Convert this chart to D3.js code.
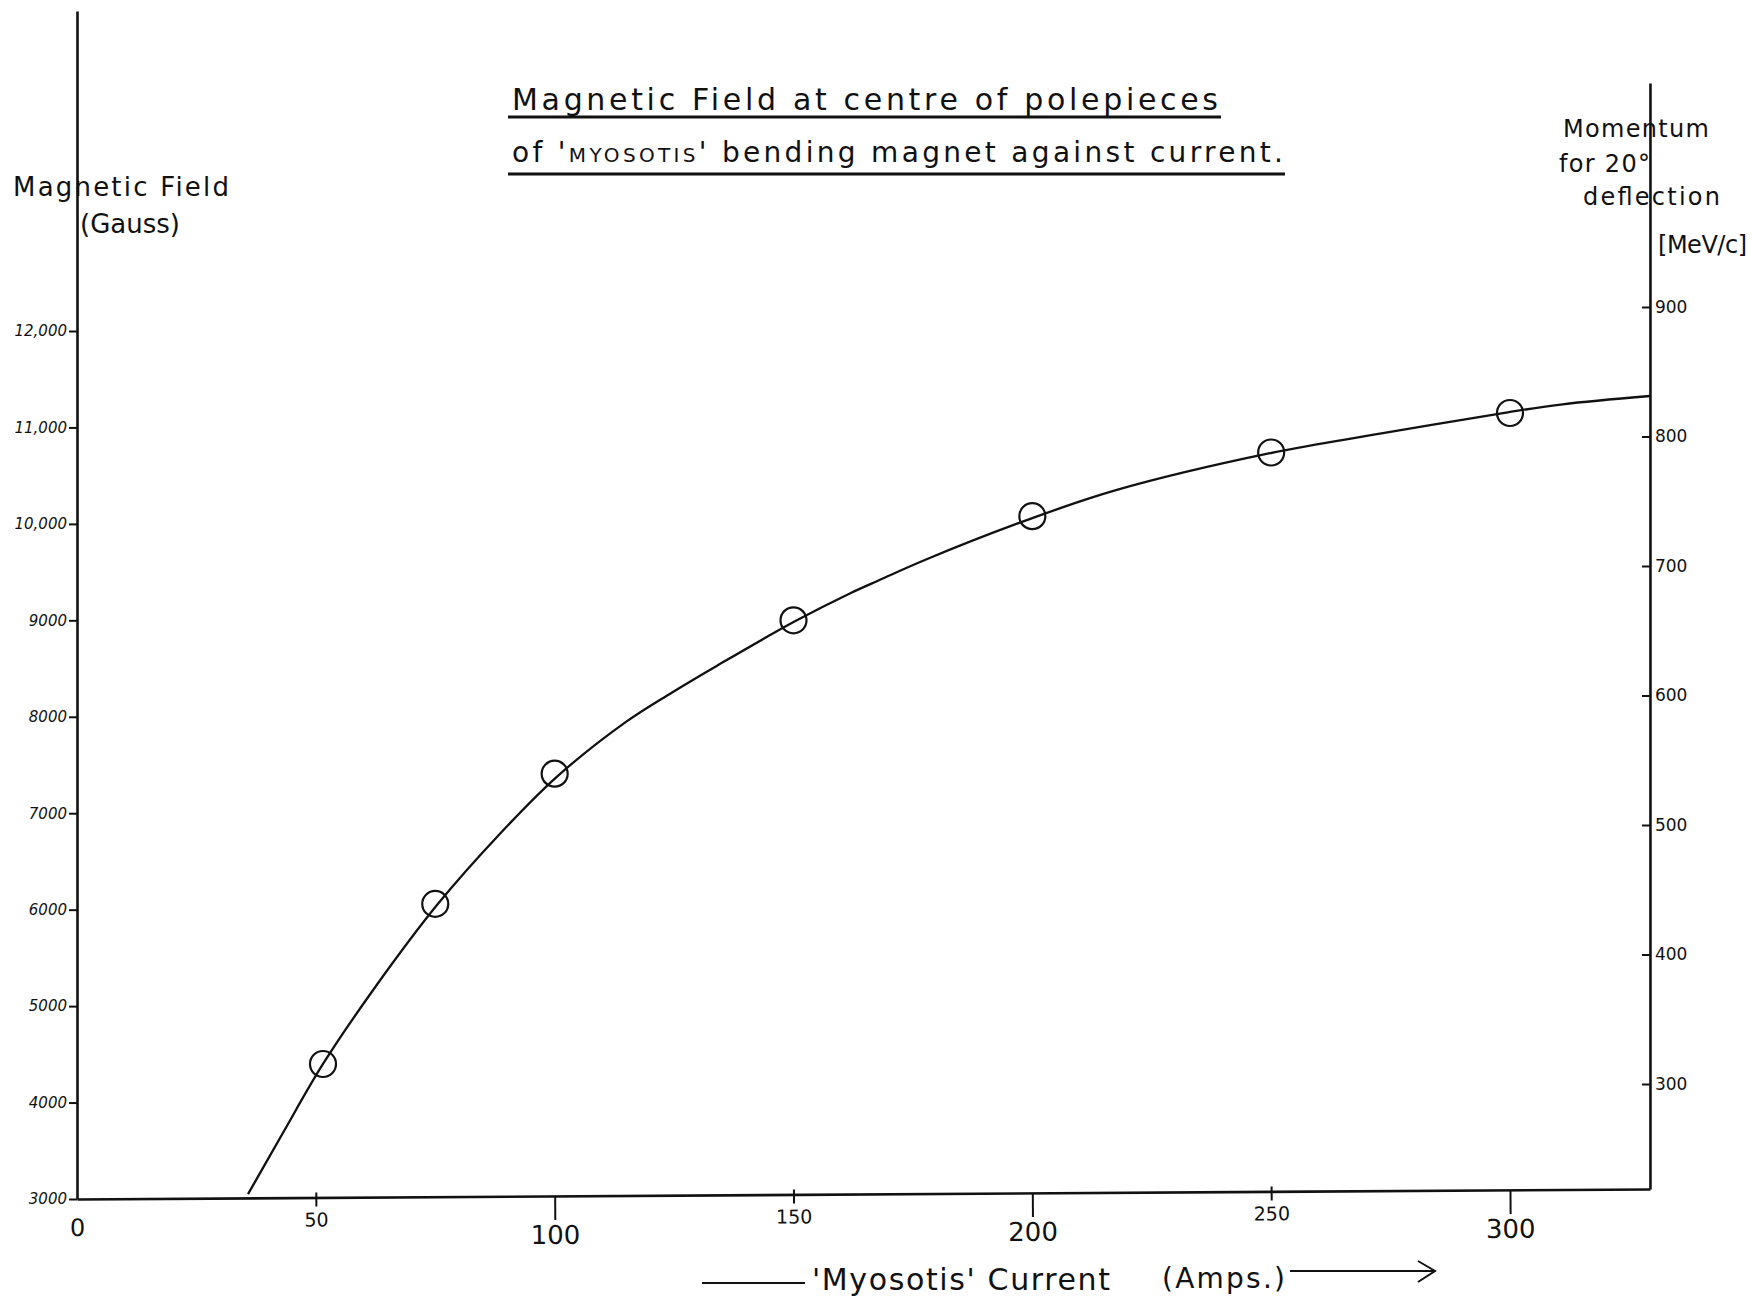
<!DOCTYPE html>
<html>
<head>
<meta charset="utf-8">
<script src="https://cdn.jsdelivr.net/npm/d3@7"></script>
<style>
  html, body { margin: 0; padding: 0; background: #fff; }
  svg { display: block; font-family: "DejaVu Sans", sans-serif; }
</style>
</head>
<body>
<svg id="chart" width="1752" height="1309"></svg>
<script>
// Tick values on the three axes
const currentTicks = [0, 50, 100, 150, 200, 250, 300];            // Amps
const fieldTicks = [3000, 4000, 5000, 6000, 7000, 8000, 9000, 10000, 11000, 12000]; // Gauss
const momentumTicks = [300, 400, 500, 600, 700, 800, 900];        // MeV/c

// Measured points (current in Amps, field in Gauss)
const pointCurrent = [51.5, 75, 100, 150, 200, 250, 300];
const pointField = [4400, 6060, 7410, 9000, 10080, 10740, 11150];

// Smooth curve drawn through the measurements
const curveCurrent = [35.8, 43.1, 51.5, 62, 75.4, 88.6, 100.5, 115, 124.5, 134, 150.3, 162, 168, 177.5, 200, 217.7, 249.5, 273.4, 299.5, 311, 329.3];
const curveField = [3050, 3684, 4400, 5167, 6050, 6790, 7380, 7950, 8250, 8530, 8990, 9284, 9418, 9626, 10060, 10352, 10730, 10940, 11157, 11240, 11326];

const ink = "#111";
const svg = d3.select("#chart");

const xEnd = 329.3; // current at which the right-hand axis stands
const x = d3.scaleLinear().domain([0, 300]).range([77, 1510]);
const y = d3.scaleLinear().domain([3000, 12000]).range([1199, 331]);
const p = d3.scaleLinear().domain([300, 900]).range([1084, 307]);

const x0 = x(0), xR = x(xEnd), yBase = y(3000);

// ---- Title ----
const title = svg.append("g").attr("fill", ink);
title.append("text")
  .attr("x", 512).attr("y", 110)
  .attr("font-size", 30)
  .attr("textLength", 706).attr("lengthAdjust", "spacing")
  .text("Magnetic Field at centre of polepieces");
const t2 = title.append("text")
  .attr("x", 512).attr("y", 162)
  .attr("font-size", 28)
  .attr("textLength", 771).attr("lengthAdjust", "spacing");
t2.append("tspan").text("of '");
t2.append("tspan").attr("font-size", 20).text("MYOSOTIS");
t2.append("tspan").text("' bending magnet against current.");
title.append("line").attr("x1", 508).attr("x2", 1221).attr("y1", 117).attr("y2", 117)
  .attr("stroke", ink).attr("stroke-width", 3);
title.append("line").attr("x1", 508).attr("x2", 1285).attr("y1", 174).attr("y2", 174)
  .attr("stroke", ink).attr("stroke-width", 3);

// ---- Axis titles ----
const labels = svg.append("g").attr("fill", ink);
labels.append("text").attr("x", 13).attr("y", 196).attr("font-size", 26)
  .attr("textLength", 216).attr("lengthAdjust", "spacing").text("Magnetic Field");
labels.append("text").attr("x", 80).attr("y", 233).attr("font-size", 26)
  .attr("textLength", 100).attr("lengthAdjust", "spacing").text("(Gauss)");

labels.append("text").attr("x", 1563).attr("y", 137).attr("font-size", 24)
  .attr("textLength", 146).attr("lengthAdjust", "spacing").text("Momentum");
labels.append("text").attr("x", 1559).attr("y", 172).attr("font-size", 24)
  .attr("textLength", 91).attr("lengthAdjust", "spacing").text("for 20°");
labels.append("text").attr("x", 1583).attr("y", 205).attr("font-size", 24)
  .attr("textLength", 137).attr("lengthAdjust", "spacing").text("deflection");
labels.append("text").attr("x", 1658).attr("y", 253).attr("font-size", 24)
  .attr("textLength", 89).attr("lengthAdjust", "spacing").text("[MeV/c]");

labels.append("line").attr("x1", 702).attr("x2", 805).attr("y1", 1283).attr("y2", 1283)
  .attr("stroke", ink).attr("stroke-width", 2);
labels.append("text").attr("x", 812).attr("y", 1290).attr("font-size", 30)
  .attr("textLength", 298).attr("lengthAdjust", "spacing").text("'Myosotis' Current");
labels.append("text").attr("x", 1162).attr("y", 1288).attr("font-size", 28)
  .attr("textLength", 123).attr("lengthAdjust", "spacing").text("(Amps.)");
labels.append("line").attr("x1", 1290).attr("x2", 1434).attr("y1", 1271).attr("y2", 1271)
  .attr("stroke", ink).attr("stroke-width", 2);
labels.append("path").attr("d", "M1418,1261L1435,1271L1418,1282")
  .attr("fill", "none").attr("stroke", ink).attr("stroke-width", 2);

// ---- Axes ----
function styleAxis(g) {
  g.selectAll(".domain").attr("stroke", ink).attr("stroke-width", 2.6);
  g.selectAll(".tick line").attr("stroke", ink).attr("stroke-width", 2);
  g.selectAll(".tick text").attr("fill", ink).attr("font-family", "DejaVu Sans, sans-serif");
}

// Left: magnetic field, axis line runs up to the top of the sheet
const yAxisScale = y.copy().domain([3000, y.invert(11)]).range([yBase, 11]);
const gLeft = svg.append("g").attr("transform", `translate(${x0},0)`)
  .call(d3.axisLeft(yAxisScale).tickValues(fieldTicks).tickSize(8).tickSizeOuter(0).tickPadding(2)
    .tickFormat(d => d >= 10000 ? d3.format(",")(d) : String(d)));
gLeft.selectAll(".tick text").attr("font-size", 15).attr("font-style", "italic");
styleAxis(gLeft);

// Right: momentum for 20 degree deflection
const pAxisScale = p.copy().domain([p.invert(1189), p.invert(83)]).range([1189, 83]);
const gRight = svg.append("g").attr("transform", `translate(${xR},0)`)
  .call(d3.axisRight(pAxisScale).tickValues(momentumTicks).tickSize(-8).tickSizeOuter(0).tickPadding(5));
gRight.selectAll(".tick text").attr("font-size", 17);
styleAxis(gRight);

// Bottom: current, ruled with a slight upward slant toward the right
const xAxisScale = x.copy().domain([0, xEnd]).range([x0, xR]);
const slant = -Math.atan(10 / (xR - x0)) * 180 / Math.PI;
const gBottom = svg.append("g")
  .attr("transform", `translate(0,${yBase}) rotate(${slant},${x0},0)`)
  .call(d3.axisBottom(xAxisScale).tickValues(currentTicks).tickSizeOuter(0));
gBottom.selectAll(".tick line")
  .attr("y1", d => (d % 100 ? -5 : 0))
  .attr("y2", d => (d === 0 ? 0 : d % 100 ? 9 : 24));
gBottom.selectAll(".tick text")
  .attr("dy", null)
  .attr("y", d => (d === 0 ? 37 : d % 100 ? 29 : 48))
  .attr("font-size", d => (d === 0 ? 24 : d % 100 ? 19 : 26));
styleAxis(gBottom);

// ---- Curve and measured points ----
const curveData = curveCurrent.map((c, i) => [c, curveField[i]]);
svg.append("path")
  .datum(curveData)
  .attr("fill", "none")
  .attr("stroke", ink)
  .attr("stroke-width", 2.3)
  .attr("stroke-linejoin", "round")
  .attr("d", d3.line().x(d => x(d[0])).y(d => y(d[1])).curve(d3.curveCatmullRom.alpha(0.5)));

svg.append("g").selectAll("circle")
  .data(pointCurrent.map((c, i) => [c, pointField[i]]))
  .join("circle")
  .attr("cx", d => x(d[0]))
  .attr("cy", d => y(d[1]))
  .attr("r", 13)
  .attr("fill", "none")
  .attr("stroke", ink)
  .attr("stroke-width", 2.2);
</script>
</body>
</html>
